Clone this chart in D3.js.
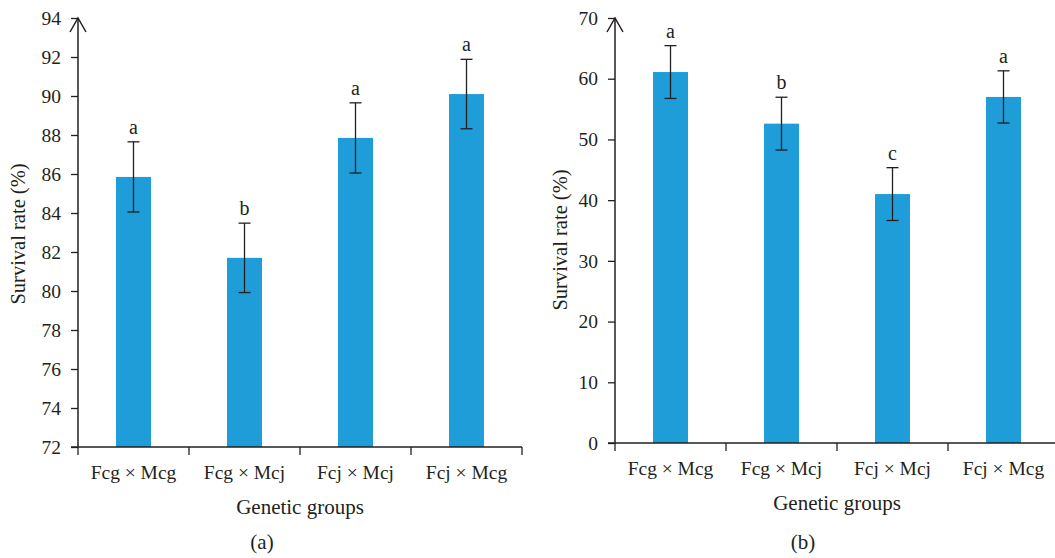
<!DOCTYPE html>
<html>
<head>
<meta charset="utf-8">
<script src="https://cdn.jsdelivr.net/npm/d3@7"></script>
<style>
  body { margin: 0; background: #fff; }
  text { font-family: "Liberation Serif", "DejaVu Serif", serif; fill: #231f20; }
</style>
</head>
<body>
<svg id="chart" width="1055" height="558"></svg>
<script>
// ---------------------------------------------------------------------------
// Data
// ---------------------------------------------------------------------------
var groups = ["Fcg \u00d7 Mcg", "Fcg \u00d7 Mcj", "Fcj \u00d7 Mcj", "Fcj \u00d7 Mcg"];

var survivalA = [85.85, 81.7, 87.85, 90.1],
    errorA = [1.8, 1.78, 1.8, 1.78],
    lettersA = ["a", "b", "a", "a"],
    ticksA = [72, 74, 76, 78, 80, 82, 84, 86, 88, 90, 92, 94];

var survivalB = [61.1, 52.6, 41.0, 57.0],
    errorB = [4.35, 4.35, 4.35, 4.3],
    lettersB = ["a", "b", "c", "a"],
    ticksB = [0, 10, 20, 30, 40, 50, 60, 70];

var svg = d3.select("#chart");
var ink = "#231f20",
    barColor = "#1e9dd8";

// ---------------------------------------------------------------------------
// One panel: bars, error bars, letters, axes
// ---------------------------------------------------------------------------
function panel(opt) {

    var g = svg.append("g");

    var x = d3.scaleBand()
        .domain(groups)
        .range([opt.left, opt.left + opt.band * groups.length])
        .paddingInner(0.685)
        .paddingOuter(0.3425);

    var y = d3.scaleLinear()
        .domain(opt.domain)
        .range([opt.bottom, opt.top]);

    // bars
    g.selectAll("rect.bar")
        .data(opt.values)
        .enter().append("rect")
        .attr("class", "bar")
        .attr("x", function(d, i) { return x(groups[i]); })
        .attr("width", x.bandwidth())
        .attr("y", function(d) { return y(d); })
        .attr("height", function(d) { return opt.bottom - y(d); })
        .attr("fill", barColor);

    // error bars
    var err = g.selectAll("g.err")
        .data(opt.values)
        .enter().append("g")
        .attr("class", "err")
        .attr("stroke", ink)
        .attr("stroke-width", 1.3);

    err.append("line")
        .attr("x1", function(d, i) { return x(groups[i]) + x.bandwidth() / 2; })
        .attr("x2", function(d, i) { return x(groups[i]) + x.bandwidth() / 2; })
        .attr("y1", function(d, i) { return y(d + opt.errors[i]); })
        .attr("y2", function(d, i) { return y(d - opt.errors[i]); });

    [1, -1].forEach(function(sign) {
        err.append("line")
            .attr("x1", function(d, i) { return x(groups[i]) + x.bandwidth() / 2 - 6; })
            .attr("x2", function(d, i) { return x(groups[i]) + x.bandwidth() / 2 + 6; })
            .attr("y1", function(d, i) { return y(d + sign * opt.errors[i]); })
            .attr("y2", function(d, i) { return y(d + sign * opt.errors[i]); });
    });

    // significance letters
    g.selectAll("text.letter")
        .data(opt.values)
        .enter().append("text")
        .attr("class", "letter")
        .attr("x", function(d, i) { return x(groups[i]) + x.bandwidth() / 2; })
        .attr("y", function(d, i) { return y(d + opt.errors[i]) - 8; })
        .attr("text-anchor", "middle")
        .style("font-size", "20px")
        .text(function(d, i) { return opt.letters[i]; });

    // y axis
    var yAxis = g.append("g")
        .attr("transform", "translate(" + opt.left + ",0)")
        .call(d3.axisLeft(y).tickValues(opt.ticks).tickSize(7).tickPadding(10));
    yAxis.select(".domain").remove();
    yAxis.selectAll("line").attr("stroke", ink).attr("stroke-width", 1.3);
    yAxis.selectAll("text").style("font-size", "19.5px").attr("fill", ink);

    g.append("line")
        .attr("x1", opt.left).attr("x2", opt.left)
        .attr("y1", opt.top).attr("y2", opt.bottom)
        .attr("stroke", ink).attr("stroke-width", 1.5);

    // arrow head at the top of the y axis
    g.append("path")
        .attr("d", d3.line()([[opt.left - 8, opt.top + 14], [opt.left, opt.top], [opt.left + 8, opt.top + 14]]))
        .attr("fill", "none")
        .attr("stroke", ink)
        .attr("stroke-width", 1.5);

    // x axis
    var xEnd = opt.left + opt.band * groups.length;
    g.append("line")
        .attr("x1", opt.left - 7).attr("x2", xEnd)
        .attr("y1", opt.bottom).attr("y2", opt.bottom)
        .attr("stroke", ink).attr("stroke-width", 1.5);

    g.selectAll("line.xtick")
        .data(d3.range(groups.length + 1))
        .enter().append("line")
        .attr("class", "xtick")
        .attr("x1", function(i) { return opt.left + i * opt.band; })
        .attr("x2", function(i) { return opt.left + i * opt.band; })
        .attr("y1", opt.bottom)
        .attr("y2", opt.bottom + 8)
        .attr("stroke", ink).attr("stroke-width", 1.3);

    g.selectAll("text.xlabel")
        .data(groups)
        .enter().append("text")
        .attr("class", "xlabel")
        .attr("x", function(d) { return x(d) + x.bandwidth() / 2; })
        .attr("y", opt.bottom + 32)
        .attr("text-anchor", "middle")
        .style("font-size", "19.5px")
        .text(function(d) { return d; });

    // axis titles
    g.append("text")
        .attr("x", opt.left + opt.band * 2)
        .attr("y", opt.bottom + 67)
        .attr("text-anchor", "middle")
        .style("font-size", "21px")
        .text("Genetic groups");

    g.append("text")
        .attr("transform", "translate(" + opt.titleX + "," + opt.titleY + ") rotate(-90)")
        .attr("text-anchor", "middle")
        .style("font-size", "20.5px")
        .text("Survival rate (%)");

    g.append("text")
        .attr("x", opt.capX)
        .attr("y", 549)
        .attr("text-anchor", "middle")
        .style("font-size", "21px")
        .text(opt.caption);
}

panel({
    left: 78, band: 111, top: 18, bottom: 447,
    domain: [72, 94], ticks: ticksA,
    values: survivalA, errors: errorA, letters: lettersA,
    titleX: 25, titleY: 234, capX: 262, caption: "(a)"
});

panel({
    left: 615, band: 111, top: 18, bottom: 443,
    domain: [0, 70], ticks: ticksB,
    values: survivalB, errors: errorB, letters: lettersB,
    titleX: 567, titleY: 240, capX: 803, caption: "(b)"
});
</script>
</body>
</html>
